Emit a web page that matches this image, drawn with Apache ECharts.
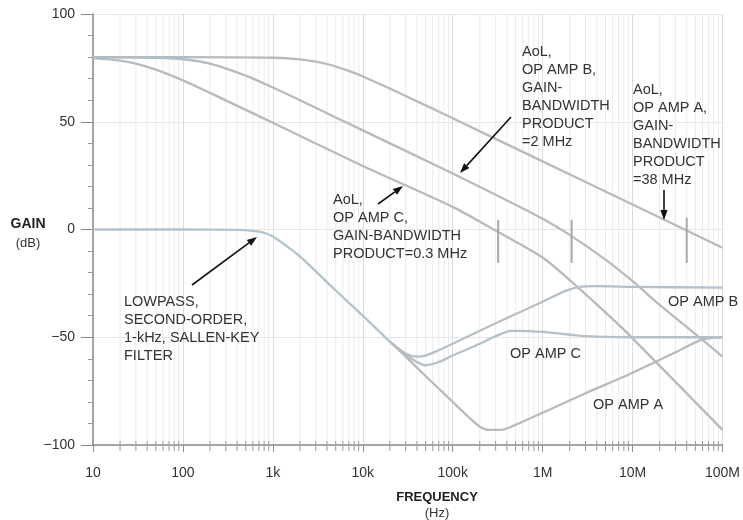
<!DOCTYPE html>
<html><head><meta charset="utf-8">
<script src="https://cdn.jsdelivr.net/npm/echarts@6/dist/echarts.min.js"></script>
<style>html,body{margin:0;padding:0;background:#fff}#c{width:743px;height:520px}</style>
</head><body><div id="c"></div>
<script>
// ---- data (frequency in Hz, gain in dB) ----
const tickLabels = ['10','100','1k','10k','100k','1M','10M','100M'];
const aolA = [[10,80],[100,80],[1000,79.7],[2000,78.9],[4000,76.8],[7000,73.6],[10000,71],[20000,65.4],[50000,57.6],[100000,51.6],[1000000,31.6],[10000000,11.6],[38000000,0],[100000000,-8.5]];
const aolB = [[10,80],[50,79.7],[100,79],[200,77],[500,71.4],[1000,65.9],[2000,60],[5000,52],[10000,46],[100000,26],[500000,11.5],[1000000,5],[2000000,-2.5],[5000000,-14],[10000000,-24],[20000000,-35],[50000000,-48.5],[100000000,-59]];
const aolC = [[10,79.5],[20,78.4],[30,77],[50,74.2],[100,69.2],[200,63.4],[500,55.5],[1000,49.5],[10000,29.5],[100000,10.5],[300000,-0.5],[1000000,-13],[2000000,-23.5],[5000000,-38.5],[10000000,-50.5],[100000000,-93]];
const filterBase = [[10,0],[100,0],[400,-0.2],[600,-0.6],[800,-1.5],[1000,-3.3],[1400,-7.5],[2000,-12.5],[5000,-28.3],[10000,-40],[20000,-52]];
const closedA = [[20000,-52],[30000,-59],[50000,-68],[100000,-80],[150000,-87],[200000,-91.5],[250000,-93],[350000,-93],[450000,-91.5],[1000000,-85],[3000000,-76],[10000000,-66.5],[30000000,-57],[60000000,-51],[100000000,-50]];
const closedB = [[20000,-52],[30000,-57.5],[40000,-59],[50000,-58.5],[70000,-56],[100000,-53],[300000,-43.5],[1000000,-33.5],[1800000,-28.5],[2500000,-26.7],[4000000,-26.3],[10000000,-26.6],[100000000,-27]];
const closedC = [[20000,-52],[30000,-58],[40000,-61.5],[50000,-63],[70000,-61.5],[100000,-58.5],[200000,-53],[300000,-49.5],[450000,-47],[1000000,-47.5],[3000000,-49.5],[10000000,-50],[100000000,-50]];
const gbwMarkers = [[320000,4.5,-15.5],[2100000,4.5,-15.5],[40000000,5.5,-15.5]];
const minorMultipliers = [2,3,4,5,6,7,8,9];
const decades = [10,100,1000,10000,100000,1000000,10000000];

const minorFreqs = [];
decades.forEach(d => minorMultipliers.forEach(m => minorFreqs.push([d*m, -100])));

const LINE = '#b6bbbf';
const chart = echarts.init(document.getElementById('c'), null, {renderer:'canvas'});

function lineSeries(data, color){
  return {type:'line', data, showSymbol:false, smooth:0.25, z:3,
    lineStyle:{color: color||LINE, width:2.3}, silent:true};
}
function arrow(x1,y1,x2,y2){
  const ang = Math.atan2(y2-y1, x2-x1), L=10, W=3.6;
  const bx = x2 - L*Math.cos(ang), by = y2 - L*Math.sin(ang);
  const px = -Math.sin(ang)*W, py = Math.cos(ang)*W;
  return [
    {type:'line', shape:{x1,y1,x2:bx,y2:by}, style:{stroke:'#111', lineWidth:1.6}, z:20},
    {type:'polygon', shape:{points:[[x2,y2],[bx+px,by+py],[bx-px,by-py]]}, style:{fill:'#111'}, z:20}
  ];
}
const TF = '14.5px "Liberation Sans", Arial, sans-serif';
function label(text, x, y){
  return {type:'text', x, y, z:20, style:{text, font:TF, fill:'#333', lineHeight:18, textVerticalAlign:'top'}};
}

const option = {
  animation:false,
  grid:{left:93, right:18, top:14, bottom:75},
  xAxis:{type:'log', logBase:10, min:10, max:100000000,
    axisLine:{onZero:false, lineStyle:{color:'#8c8c8c', width:1.5}},
    axisTick:{show:true, length:7, lineStyle:{color:'#8c8c8c'}},
    axisLabel:{margin:21, color:'#333', fontSize:14, fontFamily:'"Liberation Sans", Arial',
      formatter: v => tickLabels[Math.round(Math.log10(v))-1]},
    splitLine:{show:true, lineStyle:{color:'#dcdcdc', width:1}},
    minorTick:{show:false}, minorSplitLine:{show:false}},
  yAxis:{type:'value', min:-100, max:100, interval:50,
    axisLine:{show:true, onZero:false, lineStyle:{color:'#8c8c8c', width:1.5}},
    axisTick:{show:true, length:12, lineStyle:{color:'#8c8c8c'}},
    minorTick:{show:true, splitNumber:5, length:5, lineStyle:{color:'#9a9a9a'}},
    axisLabel:{margin:18, color:'#333', fontSize:14, fontFamily:'"Liberation Sans", Arial',
      formatter: v => v < 0 ? '\u2212' + Math.abs(v) : String(v)},
    splitLine:{show:true, lineStyle:{color:'#e6e6e6', width:1}}},
  series:[
    {type:'custom', data:minorFreqs, silent:true, z:1, clip:false,
      encode:{x:0, y:1},
      renderItem(params, api){
        const f = api.value(0);
        const top = api.coord([f, 100]), bot = api.coord([f, -100]);
        return {type:'group', children:[
          {type:'line', shape:{x1:top[0], y1:top[1], x2:bot[0], y2:bot[1]}, style:{stroke:'#ebebeb', lineWidth:1}},
          {type:'line', shape:{x1:bot[0], y1:bot[1]-4, x2:bot[0], y2:bot[1]+6}, style:{stroke:'#9a9a9a', lineWidth:1}}
        ]};
      }},
    {type:'custom', data:gbwMarkers, silent:true, z:4,
      encode:{x:0, y:[1,2]},
      renderItem(params, api){
        const a = api.coord([api.value(0), api.value(1)]), b = api.coord([api.value(0), api.value(2)]);
        return {type:'line', shape:{x1:a[0], y1:a[1], x2:b[0], y2:b[1]}, style:{stroke:'#a8a8a8', lineWidth:2}};
      }},
    lineSeries(aolA), lineSeries(aolB), lineSeries(aolC),
    lineSeries(filterBase, '#b3c3c9'),
    lineSeries(closedA), lineSeries(closedB, '#b6c0c6'), lineSeries(closedC, '#b6c0c6')
  ],
  graphic:[
    label('AoL,\nOP AMP B,\nGAIN-\nBANDWIDTH\nPRODUCT\n=2 MHz', 522, 43),
    label('AoL,\nOP AMP A,\nGAIN-\nBANDWIDTH\nPRODUCT\n=38 MHz', 633, 81),
    label('AoL,\nOP AMP C,\nGAIN-BANDWIDTH\nPRODUCT=0.3 MHz', 333, 191),
    label('LOWPASS,\nSECOND-ORDER,\n1-kHz, SALLEN-KEY\nFILTER', 124, 293),
    label('OP AMP B', 668, 293),
    label('OP AMP C', 510, 345),
    label('OP AMP A', 593, 396),
    {type:'text', x:28, y:224, z:20, style:{text:'GAIN', font:'bold 14px "Liberation Sans", Arial', fill:'#222', textAlign:'center', textVerticalAlign:'middle'}},
    {type:'text', x:28, y:243, z:20, style:{text:'(dB)', font:'13px "Liberation Sans", Arial', fill:'#333', textAlign:'center', textVerticalAlign:'middle'}},
    {type:'text', x:437, y:497, z:20, style:{text:'FREQUENCY', font:'bold 13px "Liberation Sans", Arial', fill:'#222', textAlign:'center', textVerticalAlign:'middle'}},
    {type:'text', x:437, y:513, z:20, style:{text:'(Hz)', font:'13px "Liberation Sans", Arial', fill:'#333', textAlign:'center', textVerticalAlign:'middle'}},
    ...arrow(511,117,460,173),
    ...arrow(378,204,403,186),
    ...arrow(664,190,664,220),
    ...arrow(192,285,257,237)
  ]
};
chart.setOption(option);
</script></body></html>
